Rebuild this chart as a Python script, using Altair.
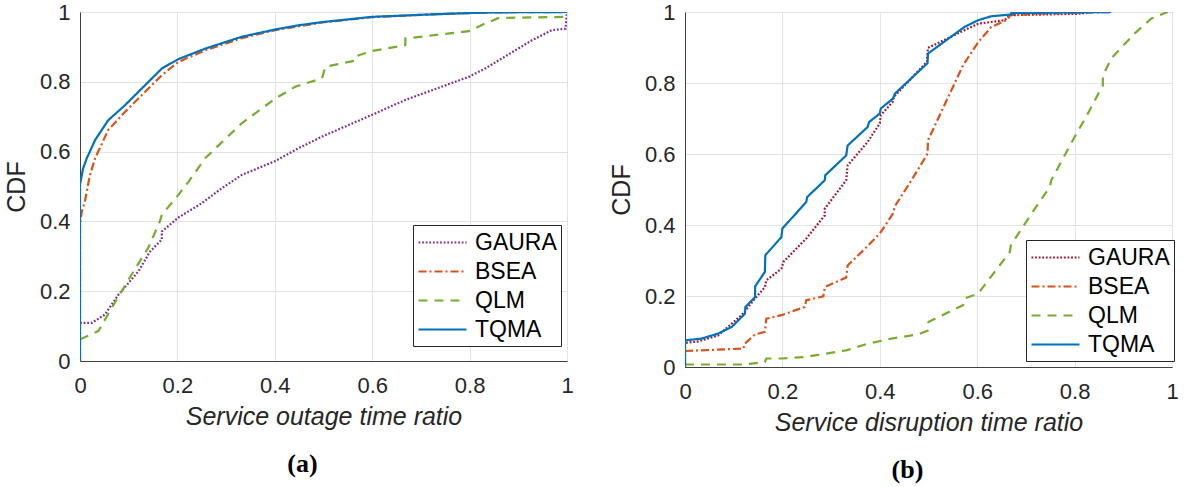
import altair as alt
import pandas as pd

NAMES = ["GAURA", "BSEA", "QLM", "TQMA"]
TICKS = [0, 0.2, 0.4, 0.6, 0.8, 1]

# ---- panel (a): service outage time ratio ----
GAURA_A_X = [0, 0.024, 0.051, 0.079, 0.12, 0.144, 0.168, 0.168, 0.202, 0.25, 0.291, 0.332, 0.401, 0.449, 0.497, 0.599, 0.668, 0.798, 0.832, 0.928, 0.969, 0.997, 1.0]
GAURA_A_Y = [0.109, 0.109, 0.133, 0.19, 0.257, 0.314, 0.348, 0.371, 0.411, 0.452, 0.495, 0.533, 0.573, 0.61, 0.643, 0.705, 0.748, 0.814, 0.838, 0.919, 0.948, 0.952, 1.0]
BSEA_A_X = [0, 0, 0.004, 0.010, 0.02, 0.031, 0.058, 0.0925, 0.127, 0.168, 0.202, 0.257, 0.332, 0.401, 0.497, 0.599, 0.702, 0.798, 0.853, 1.0]
BSEA_A_Y = [0, 0.395, 0.43, 0.457, 0.53, 0.581, 0.662, 0.714, 0.762, 0.819, 0.857, 0.89, 0.925, 0.948, 0.970, 0.985, 0.992, 0.997, 0.999, 1.0]
QLM_A_X = [0, 0.038, 0.065, 0.106, 0.14, 0.164, 0.168, 0.202, 0.223, 0.257, 0.332, 0.401, 0.442, 0.497, 0.504, 0.569, 0.572, 0.599, 0.668, 0.668, 0.798, 0.832, 0.86, 0.997, 1.0]
QLM_A_Y = [0.062, 0.086, 0.152, 0.248, 0.324, 0.40, 0.419, 0.476, 0.514, 0.581, 0.681, 0.752, 0.786, 0.81, 0.843, 0.862, 0.876, 0.888, 0.905, 0.924, 0.945, 0.967, 0.983, 0.986, 0.986]
TQMA_A_X = [0, 0, 0.006, 0.0136, 0.031, 0.058, 0.0925, 0.127, 0.168, 0.202, 0.257, 0.332, 0.401, 0.449, 0.497, 0.599, 0.702, 0.798, 0.853, 1.0]
TQMA_A_Y = [0, 0.506, 0.55, 0.58, 0.633, 0.69, 0.733, 0.781, 0.838, 0.865, 0.895, 0.929, 0.95, 0.962, 0.971, 0.986, 0.992, 0.997, 0.999, 1.0]

# ---- panel (b): service disruption time ratio ----
GAURA_B_X = [0, 0, 0.027, 0.068, 0.116, 0.144, 0.164, 0.167, 0.198, 0.202, 0.249, 0.287, 0.287, 0.331, 0.334, 0.375, 0.4, 0.402, 0.427, 0.429, 0.497, 0.498, 0.499, 0.567, 0.602, 0.656, 0.667, 0.807, 0.84]
GAURA_B_Y = [0, 0.068, 0.072, 0.089, 0.146, 0.193, 0.225, 0.244, 0.277, 0.296, 0.362, 0.427, 0.446, 0.526, 0.568, 0.634, 0.686, 0.709, 0.748, 0.761, 0.86, 0.885, 0.899, 0.944, 0.967, 0.977, 0.991, 0.995, 1.0]
BSEA_B_X = [0, 0, 0.12, 0.123, 0.144, 0.164, 0.167, 0.198, 0.246, 0.249, 0.284, 0.287, 0.331, 0.334, 0.373, 0.4, 0.427, 0.431, 0.465, 0.498, 0.499, 0.571, 0.602, 0.629, 0.663, 0.667, 0.725, 0.875]
BSEA_B_Y = [0, 0.045, 0.052, 0.066, 0.092, 0.099, 0.136, 0.146, 0.169, 0.188, 0.199, 0.225, 0.252, 0.286, 0.338, 0.376, 0.432, 0.453, 0.526, 0.601, 0.639, 0.85, 0.915, 0.958, 0.979, 0.991, 0.995, 1.0]
QLM_B_X = [0, 0.12, 0.164, 0.167, 0.198, 0.246, 0.331, 0.376, 0.424, 0.479, 0.499, 0.5, 0.571, 0.574, 0.602, 0.667, 0.669, 0.714, 0.749, 0.752, 0.8, 0.831, 0.834, 0.858, 0.858, 0.875, 0.923, 0.957, 0.991]
QLM_B_Y = [0.007, 0.007, 0.014, 0.024, 0.024, 0.028, 0.047, 0.066, 0.08, 0.092, 0.103, 0.127, 0.174, 0.193, 0.207, 0.324, 0.343, 0.437, 0.507, 0.526, 0.648, 0.723, 0.732, 0.793, 0.82, 0.869, 0.939, 0.981, 1.0]
TQMA_B_X = [0, 0, 0.034, 0.068, 0.096, 0.123, 0.124, 0.144, 0.144, 0.164, 0.165, 0.198, 0.2, 0.249, 0.251, 0.287, 0.288, 0.331, 0.334, 0.375, 0.378, 0.4, 0.402, 0.427, 0.431, 0.498, 0.499, 0.574, 0.602, 0.629, 0.67, 0.67, 0.875]
TQMA_B_Y = [0, 0.075, 0.08, 0.094, 0.113, 0.150, 0.169, 0.197, 0.227, 0.268, 0.315, 0.366, 0.39, 0.465, 0.479, 0.526, 0.54, 0.596, 0.624, 0.676, 0.69, 0.714, 0.728, 0.756, 0.77, 0.856, 0.883, 0.958, 0.977, 0.988, 0.993, 0.997, 1.0]

COLORS_A = ["#7E2F8E", "#D95319", "#77AC30", "#0072BD"]
COLORS_B = ["#A2142F", "#D95319", "#77AC30", "#0072BD"]
DASHES = [[1.8, 1.8], [8, 3, 2, 3], [9, 7], [1, 0]]

FONT = "Liberation Sans"


def frame(series):
    rows = []
    for name, xs, ys in series:
        for i, (x, y) in enumerate(zip(xs, ys)):
            rows.append({"series": name, "idx": i, "x": x, "y": y})
    return pd.DataFrame(rows)


def panel(df, colors, xtitle, caption, height, lx, ly):
    legend = alt.Legend(
        title=None, orient="none", legendX=lx, legendY=ly,
        fillColor="white", strokeColor="#262626", padding=4,
        symbolType="M-1,0L3,0", symbolSize=576, symbolStrokeWidth=2.2,
        labelFont=FONT, labelFontSize=23, labelColor="black",
        rowPadding=3, labelOffset=31, offset=0,
    )
    return alt.Chart(df).mark_line(strokeWidth=2.2, clip=True).encode(
        x=alt.X("x:Q", scale=alt.Scale(domain=[0, 1], nice=False, zero=False),
                axis=alt.Axis(values=TICKS, format="~g", title=xtitle, labelFlush=False,
                              titleFontStyle="italic", titlePadding=8)),
        y=alt.Y("y:Q", scale=alt.Scale(domain=[0, 1], nice=False),
                axis=alt.Axis(values=TICKS, format="~g", title="CDF", labelFlush=False,
                              titlePadding=10, labelPadding=10)),
        color=alt.Color("series:N", scale=alt.Scale(domain=NAMES, range=colors), legend=legend),
        strokeDash=alt.StrokeDash("series:N", scale=alt.Scale(domain=NAMES, range=DASHES), legend=legend),
        order=alt.Order("idx:Q"),
    ).properties(
        width=487, height=height,
        title=alt.TitleParams(caption, orient="bottom", anchor="middle", font="Liberation Serif",
                              fontSize=26, fontWeight="bold", color="black", offset=22, dx=-21),
    )


df_a = frame([("GAURA", GAURA_A_X, GAURA_A_Y), ("BSEA", BSEA_A_X, BSEA_A_Y),
              ("QLM", QLM_A_X, QLM_A_Y), ("TQMA", TQMA_A_X, TQMA_A_Y)])
df_b = frame([("GAURA", GAURA_B_X, GAURA_B_Y), ("BSEA", BSEA_B_X, BSEA_B_Y),
              ("QLM", QLM_B_X, QLM_B_Y), ("TQMA", TQMA_B_X, TQMA_B_Y)])

left = panel(df_a, COLORS_A, "Service outage time ratio", "(a)", 349, 333, 213)
right = panel(df_b, COLORS_B, "Service disruption time ratio", "(b)", 355, 341, 228)

chart = alt.hconcat(left, right, spacing=118, bounds="flush").resolve_scale(
    color="independent", strokeDash="independent"
).resolve_legend(color="independent", strokeDash="independent").properties(
    padding={"left": 3, "top": 0, "right": 0, "bottom": 0},
    background="white",
).configure_view(
    stroke="#404040", strokeWidth=1
).configure_axis(
    labelFont=FONT, labelFontSize=22, labelColor="#262626",
    titleFont=FONT, titleFontSize=25, titleColor="#262626", titleFontWeight="normal",
    gridColor="#e3e3e3", gridWidth=1, domainColor="#404040", domainWidth=1,
    ticks=False, labelPadding=14,
).configure_axisY(labelPadding=10)

chart.save("out.html", embed_options={"renderer": "svg", "actions": False})
